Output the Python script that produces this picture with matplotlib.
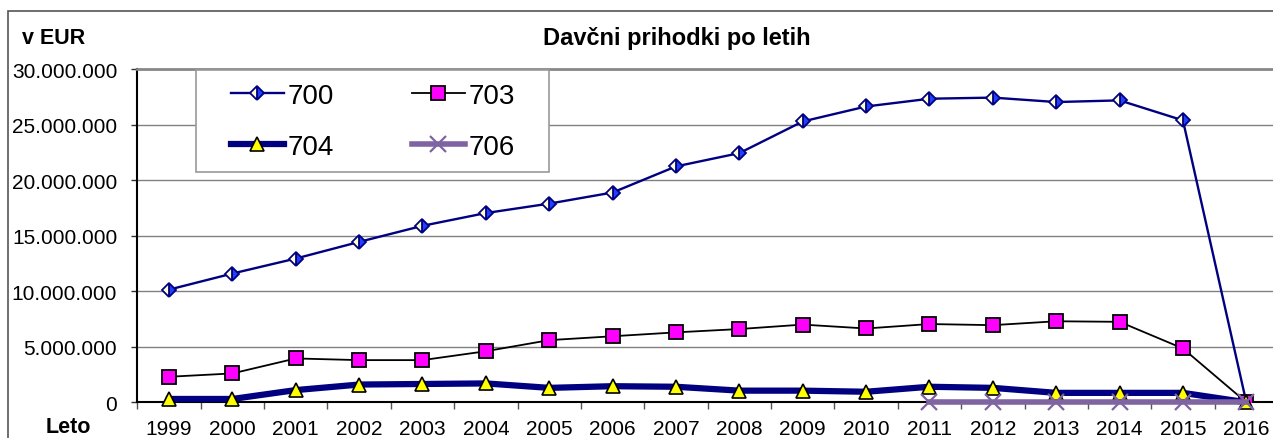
import matplotlib
matplotlib.use("Agg")
import matplotlib.pyplot as plt
import matplotlib.ticker as mticker
from matplotlib.patches import Rectangle
import numpy as np

plt.rcParams["font.family"] = ["Liberation Sans", "DejaVu Sans"]

years = [str(y) for y in range(1999, 2017)]
s700 = [10.15e6, 11.6e6, 12.95e6, 14.45e6, 15.9e6, 17.05e6, 17.9e6, 18.9e6, 21.25e6,
        22.45e6, 25.3e6, 26.65e6, 27.35e6, 27.45e6, 27.05e6, 27.2e6, 25.4e6, 0]
s703 = [2.3e6, 2.6e6, 3.95e6, 3.8e6, 3.8e6, 4.6e6, 5.6e6, 5.95e6, 6.3e6,
        6.6e6, 7.0e6, 6.65e6, 7.05e6, 6.95e6, 7.3e6, 7.25e6, 4.85e6, 0]
s704 = [0.3e6, 0.3e6, 1.1e6, 1.6e6, 1.65e6, 1.7e6, 1.3e6, 1.45e6, 1.4e6,
        1.05e6, 1.05e6, 0.95e6, 1.4e6, 1.3e6, 0.85e6, 0.85e6, 0.85e6, 0]
s706 = [np.nan] * 12 + [0, 0, 0, 0, 0, 0]

W, H = 1273, 439
fig = plt.figure(figsize=(W / 100, H / 100), dpi=100)

# outer chart border (cut off at right/bottom like the screenshot)
fig.patches.append(Rectangle((8 / W, -0.2), 1.2, 1.2 - 12 / H,
                             transform=fig.transFigure, fill=False,
                             edgecolor="#555555", linewidth=1.2))

left, right = 137.3, 1278
top, bottom = 70.3, 403.3
ax = fig.add_axes([left / W, 1 - bottom / H, (right - left) / W, (bottom - top) / H])

x = np.arange(len(years))
l700, = ax.plot(x, s700, color="#000080", lw=1.7, marker="D", ms=7.5, mec="#000080", mew=1.3,
                fillstyle="right", mfc="#2040ff", mfcalt="#ffffcc", label="700", zorder=3)
l703, = ax.plot(x, s703, color="black", lw=1.3, marker="s", ms=10, mfc="#ff00ff", mec="black",
                mew=1.3, label="703", zorder=4)
l704, = ax.plot(x, s704, color="#000080", lw=4.5, marker="^", ms=10, mfc="#ffff00", mec="black",
                mew=1.2, label="704", zorder=5, clip_on=False)
l706, = ax.plot(x, s706, color="#8064a2", lw=4, marker="x", ms=12, mec="#8064a2", mew=1.6,
                label="706", zorder=6, clip_on=False)

ax.set_xlim(-0.5, len(years) - 0.5)
ax.set_ylim(0, 30e6)
ax.set_yticks(np.arange(0, 30e6 + 1, 5e6))
ax.yaxis.set_major_formatter(mticker.FuncFormatter(lambda v, p: f"{int(v):,}".replace(",", ".")))
ax.set_xticks(x)
ax.set_xticklabels(years)
ax.set_xticks(np.arange(-0.5, len(years), 1), minor=True)
ax.tick_params(axis="x", which="major", length=0, pad=12, labelsize=15)
ax.tick_params(axis="x", which="minor", length=5, width=1, direction="out", color="#555555")
ax.tick_params(axis="y", length=4.5, width=1, pad=10, labelsize=15, color="#333333")

ax.grid(axis="y", color="#808080", lw=1)
ax.set_axisbelow(True)
ax.spines["right"].set_visible(False)
ax.spines["top"].set_color("#888888")
ax.spines["top"].set_linewidth(2)
ax.spines["left"].set_linewidth(1.5)
ax.spines["bottom"].set_linewidth(1.5)

# legend frame drawn by hand, entries placed inside it (row-wise: 700 703 / 704 706)
fig.patches.append(Rectangle((195.7 / W, 1 - 172.7 / H), (549 - 195.7) / W, (172.7 - 71) / H,
                             transform=fig.transFigure, facecolor="white",
                             edgecolor="#999999", linewidth=1.2, zorder=10))
leg = fig.legend([l700, l704, l703, l706], ["700", "704", "703", "706"], ncol=2,
                 loc="center left", bbox_to_anchor=(231 / W, 1 - 122.4 / H),
                 fontsize=20, frameon=False, handlelength=1.9, handletextpad=0.15,
                 columnspacing=2.8, borderpad=0, labelspacing=0.9, borderaxespad=0)
leg.set_zorder(11)

fig.text(22 / W, 1 - 38 / H, "v EUR", fontsize=15.5, fontweight="bold", va="center", ha="left")
fig.text(677 / W, 1 - 38 / H, "Davčni prihodki po letih", fontsize=17, fontweight="bold",
         va="center", ha="center")
fig.text(68 / W, 1 - 428 / H, "Leto", fontsize=15.5, fontweight="bold", va="center", ha="center")

fig.savefig("out.png", dpi=100)
